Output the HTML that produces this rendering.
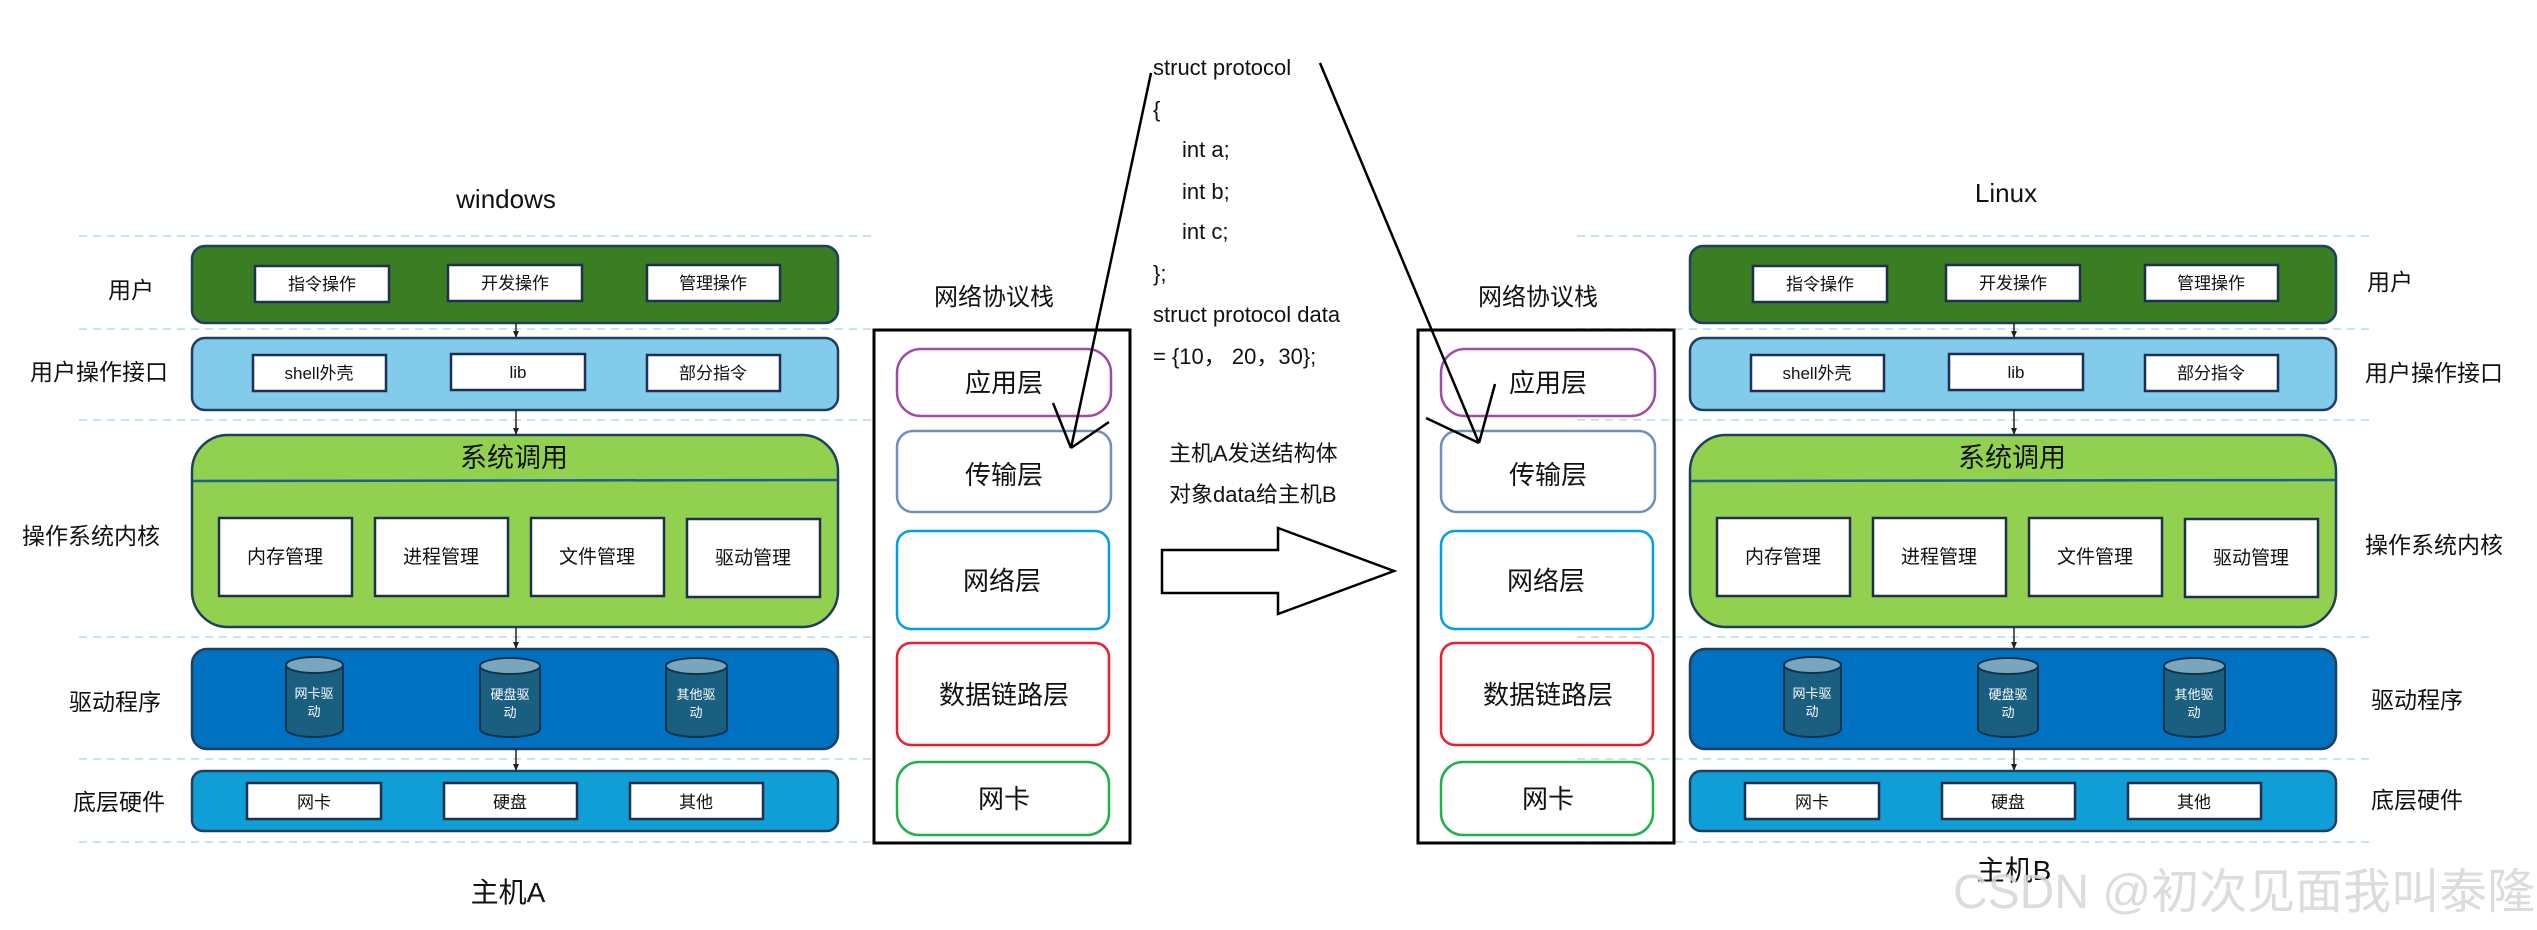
<!DOCTYPE html>
<html><head><meta charset="utf-8"><style>
html,body{margin:0;padding:0;background:#fff;}
svg{display:block;}
text{font-family:"Liberation Sans","Noto Sans CJK SC",sans-serif;}
</style></head><body>
<svg width="2537" height="930" viewBox="0 0 2537 930" xmlns="http://www.w3.org/2000/svg">
<defs>
<marker id="ah" markerWidth="8" markerHeight="8" refX="6" refY="4" orient="auto" markerUnits="userSpaceOnUse"><path d="M0,1 L7,4 L0,7 Z" fill="#222"/></marker>
<g id="os">
  <g stroke="#c5e3f3" stroke-width="2" stroke-dasharray="8,6">
    <line x1="79" y1="236" x2="877" y2="236"/><line x1="79" y1="329" x2="877" y2="329"/>
    <line x1="79" y1="420" x2="877" y2="420"/><line x1="79" y1="637" x2="877" y2="637"/>
    <line x1="79" y1="759" x2="877" y2="759"/><line x1="79" y1="842" x2="877" y2="842"/>
  </g>
  <g stroke="#1f3f5f" stroke-width="2.5">
    <rect x="192" y="246" width="646" height="77" rx="13" fill="#3a7d22"/>
    <rect x="192" y="338" width="646" height="72" rx="13" fill="#83cbeb"/>
    <rect x="192" y="435" width="646" height="192" rx="36" fill="#92d050"/>
    <line x1="193" y1="481" x2="837" y2="480" stroke="#1f5f8f"/>
    <rect x="192" y="649" width="646" height="100" rx="15" fill="#0070c0"/>
    <rect x="192" y="771" width="646" height="60" rx="11" fill="#0f9ed5"/>
  </g>
  <g fill="#fff" stroke="#1f2f4f" stroke-width="2.5">
    <rect x="255" y="266" width="134" height="36"/><rect x="448" y="265" width="134" height="36"/><rect x="647" y="265" width="133" height="36"/>
    <rect x="253" y="355" width="133" height="36"/><rect x="451" y="354" width="134" height="36"/><rect x="647" y="355" width="133" height="36"/>
    <rect x="219" y="518" width="133" height="78"/><rect x="375" y="518" width="133" height="78"/><rect x="531" y="518" width="133" height="78"/><rect x="687" y="519" width="133" height="78"/>
    <rect x="247" y="783" width="134" height="36"/><rect x="444" y="783" width="133" height="36"/><rect x="630" y="783" width="133" height="36"/>
  </g>
  <g font-size="17" fill="#111" text-anchor="middle">
    <text x="322" y="290">指令操作</text><text x="515" y="289">开发操作</text><text x="713" y="289">管理操作</text>
    <text x="319" y="379">shell外壳</text><text x="518" y="378">lib</text><text x="713" y="379">部分指令</text>
    <text x="285" y="563" font-size="19">内存管理</text><text x="441" y="563" font-size="19">进程管理</text><text x="597" y="563" font-size="19">文件管理</text><text x="753" y="564" font-size="19">驱动管理</text>
    <text x="314" y="808">网卡</text><text x="510" y="808">硬盘</text><text x="696" y="808">其他</text>
    <text x="514" y="467" font-size="27">系统调用</text>
  </g>
  <g stroke="#0d3550" stroke-width="2" fill="#1a5e80">
    <path d="M286,665 v64 a28.5,8 0 0 0 57,0 v-64"/><ellipse cx="314.5" cy="665" rx="28.5" ry="8" fill="#7aa6bd"/>
    <path d="M480,666 v63 a30,8 0 0 0 60,0 v-63"/><ellipse cx="510" cy="666" rx="30" ry="8" fill="#7aa6bd"/>
    <path d="M666,666 v63 a30.5,8 0 0 0 61,0 v-63"/><ellipse cx="696.5" cy="666" rx="30.5" ry="8" fill="#7aa6bd"/>
  </g>
  <g font-size="13" fill="#fff" text-anchor="middle">
    <text x="314" y="698">网卡驱</text><text x="314" y="716">动</text>
    <text x="510" y="699">硬盘驱</text><text x="510" y="717">动</text>
    <text x="696" y="699">其他驱</text><text x="696" y="717">动</text>
  </g>
  <g stroke="#222" stroke-width="1.5" marker-end="url(#ah)">
    <line x1="516" y1="323" x2="516" y2="337"/><line x1="516" y1="410" x2="516" y2="434"/>
    <line x1="516" y1="627" x2="516" y2="648"/><line x1="516" y1="749" x2="516" y2="770"/>
  </g>
</g>
<g id="stack">
  <rect x="874" y="330" width="256" height="513" fill="none" stroke="#000" stroke-width="3"/>
  <g fill="none" stroke-width="2.5">
    <rect x="897" y="349" width="214" height="67" rx="24" stroke="#a04aa8"/>
    <rect x="897" y="431" width="214" height="81" rx="16" stroke="#6f8fbf"/>
    <rect x="897" y="531" width="212" height="98" rx="14" stroke="#00a0e4"/>
    <rect x="897" y="643" width="212" height="102" rx="14" stroke="#e8202e"/>
    <rect x="897" y="762" width="212" height="73" rx="22" stroke="#22b04a"/>
  </g>
  <g font-size="26" fill="#111" text-anchor="middle">
    <text x="1004" y="392">应用层</text><text x="1004" y="484">传输层</text><text x="1002" y="590">网络层</text>
    <text x="1004" y="704">数据链路层</text><text x="1004" y="808">网卡</text>
    <text x="994" y="305" font-size="24">网络协议栈</text>
  </g>
</g>
</defs>
<use href="#os"/>
<use href="#os" transform="translate(1498,0)"/>
<use href="#stack"/>
<use href="#stack" transform="translate(544,0)"/>
<g font-size="23" fill="#111" text-anchor="middle">
  <text x="506" y="208" font-size="26">windows</text>
  <text x="508" y="902" font-size="28">主机A</text>
  <text x="2006" y="202" font-size="26">Linux</text>
  <text x="2014" y="880" font-size="28">主机B</text>
  <text x="131" y="298">用户</text>
  <text x="99" y="380">用户操作接口</text>
  <text x="91" y="544">操作系统内核</text>
  <text x="115" y="710">驱动程序</text>
  <text x="119" y="810">底层硬件</text>
</g>
<g font-size="23" fill="#111">
  <text x="2367" y="290">用户</text>
  <text x="2365" y="381">用户操作接口</text>
  <text x="2365" y="553">操作系统内核</text>
  <text x="2371" y="708">驱动程序</text>
  <text x="2371" y="808">底层硬件</text>
</g>
<g font-size="22" fill="#111">
  <text x="1153" y="75">struct protocol</text>
  <text x="1153" y="117">{</text>
  <text x="1182" y="157">int a;</text>
  <text x="1182" y="199">int b;</text>
  <text x="1182" y="239">int c;</text>
  <text x="1153" y="281">};</text>
  <text x="1153" y="322">struct protocol data</text>
  <text x="1153" y="364">= {10，  20，30};</text>
  <text x="1169" y="461">主机A发送结构体</text>
  <text x="1169" y="502">对象data给主机B</text>
</g>
<polygon points="1162,550 1278,550 1278,528 1394,571 1278,614 1278,593 1162,593" fill="#fff" stroke="#000" stroke-width="2.5"/>
<g stroke="#000" stroke-width="2.5" fill="none">
  <line x1="1151" y1="73" x2="1071" y2="448"/>
  <line x1="1053" y1="403" x2="1071" y2="448"/>
  <line x1="1109" y1="422" x2="1071" y2="448"/>
  <line x1="1320" y1="63" x2="1479" y2="443"/>
  <line x1="1426" y1="418" x2="1479" y2="443"/>
  <line x1="1495" y1="384" x2="1479" y2="443"/>
</g>
<text x="1953" y="908" font-size="48" fill="#d6d6d6" fill-opacity="0.85">CSDN @初次见面我叫泰隆</text>
</svg>
</body></html>
